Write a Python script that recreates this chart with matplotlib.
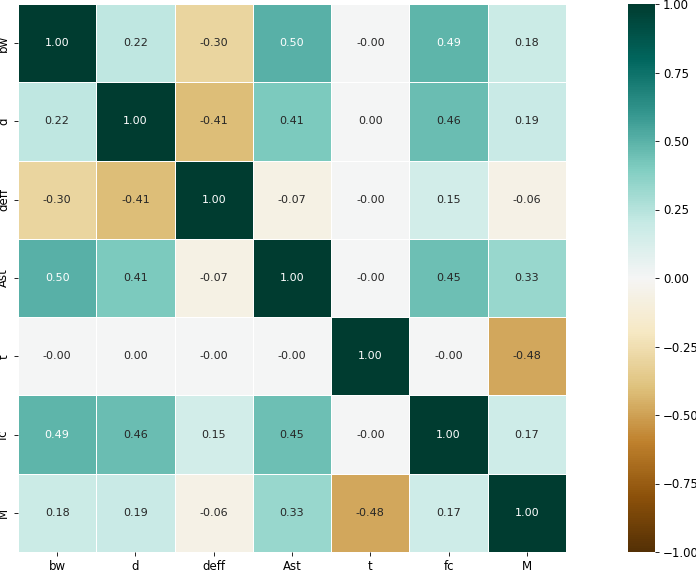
import matplotlib
matplotlib.use("Agg")
import matplotlib.pyplot as plt
import seaborn as sns
import numpy as np
import pandas as pd

labels = ["bw", "d", "deff", "Ast", "t", "fc", "M"]
row_bw   = [1.00, 0.22, -0.30, 0.50, -0.00, 0.49, 0.18]
row_d    = [0.22, 1.00, -0.41, 0.41, 0.00, 0.46, 0.19]
row_deff = [-0.30, -0.41, 1.00, -0.07, -0.00, 0.15, -0.06]
row_ast  = [0.50, 0.41, -0.07, 1.00, -0.00, 0.45, 0.33]
row_t    = [-0.00, 0.00, -0.00, -0.00, 1.00, -0.00, -0.48]
row_fc   = [0.49, 0.46, 0.15, 0.45, -0.00, 1.00, 0.17]
row_m    = [0.18, 0.19, -0.06, 0.33, -0.48, 0.17, 1.00]

corr = pd.DataFrame([row_bw, row_d, row_deff, row_ast, row_t, row_fc, row_m],
                    index=labels, columns=labels)

fig = plt.figure(figsize=(6.96, 5.70), dpi=100)
ax = fig.add_axes([18/696, 18/570, 548/696, 548/570])
cax = fig.add_axes([628/696, 18/570, 27/696, 548/570])
sns.heatmap(corr, ax=ax, cbar_ax=cax, cmap="BrBG", vmin=-1, vmax=1,
            annot=True, fmt=".2f", linewidths=0.5, linecolor="white",
            annot_kws={"fontsize": 8})
ax.tick_params(labelsize=8.5, length=2.8, width=0.6, pad=2.8)
cax.tick_params(labelsize=8.5, length=2.8, width=0.6, pad=2.8)
cax.collections[0].colorbar.outline.set_visible(False) if hasattr(cax.collections[0], 'colorbar') and cax.collections[0].colorbar else None
fig.savefig("out.png", dpi=100)
